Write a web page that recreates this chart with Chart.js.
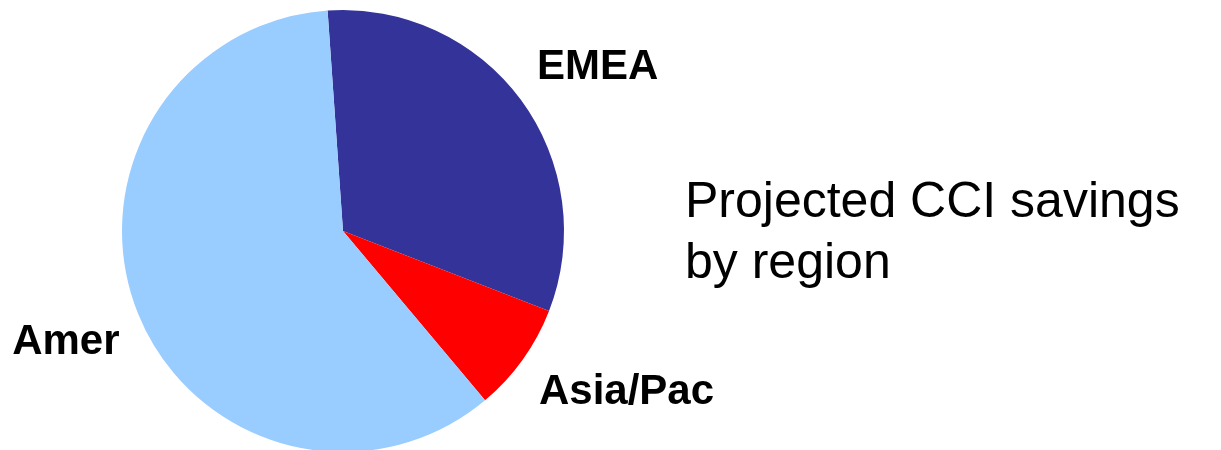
<!DOCTYPE html>
<html>
<head>
<meta charset="utf-8">
<script src="https://cdn.jsdelivr.net/npm/chart.js@4"></script>
<style>
    html, body { margin: 0; padding: 0; background: #fff; overflow: hidden; }
    body { width: 1221px; height: 450px; position: relative; }
    #pieChart { position: absolute; left: 0; top: 0; }
    .title {
        position: absolute;
        left: 685px;
        top: 170px;
        font-family: "Liberation Sans", Arial, sans-serif;
        font-size: 50px;
        line-height: 61px;
        color: #000;
    }
</style>
</head>
<body>
<canvas id="pieChart" width="1221" height="460"></canvas>
<div class="title">Projected CCI savings<br>by region</div>
<script>
// Pie data
const regions = ['EMEA', 'Asia/Pac', 'Amer'];
const savings = [32, 8, 60];
const sliceColors = ['#333399', '#FF0000', '#99CCFF'];

// Outside labels, anchored at the corner nearest the slice
const sliceLabels = {
    id: 'sliceLabels',
    afterDatasetsDraw(chart) {
        const ctx = chart.ctx;
        const arcs = chart.getDatasetMeta(0).data;
        ctx.save();
        ctx.font = 'bold 42px "Liberation Sans", Arial, sans-serif';
        ctx.fillStyle = '#000';
        arcs.forEach((arc, i) => {
            const p = arc.getProps(['x', 'y', 'startAngle', 'endAngle', 'outerRadius'], true);
            const mid = (p.startAngle + p.endAngle) / 2;
            const r = p.outerRadius + 20;
            const x = p.x + Math.cos(mid) * r;
            const y = p.y + Math.sin(mid) * r;
            ctx.textAlign = Math.cos(mid) >= 0 ? 'left' : 'right';
            ctx.textBaseline = Math.sin(mid) < 0 ? 'bottom' : 'top';
            ctx.fillText(chart.data.labels[i], x, y);
        });
        ctx.restore();
    }
};

const pieCtx = document.getElementById('pieChart').getContext('2d');
new Chart(pieCtx, {
    type: 'pie',
    data: {
        labels: regions,
        datasets: [{
            data: savings,
            backgroundColor: sliceColors,
            borderWidth: 0
        }]
    },
    options: {
        responsive: false,
        animation: false,
        rotation: -4,
        layout: {
            padding: { left: 122, right: 657, top: 10, bottom: 8 }
        },
        plugins: {
            legend: { display: false },
            tooltip: { enabled: false }
        }
    },
    plugins: [sliceLabels]
});
</script>
</body>
</html>
